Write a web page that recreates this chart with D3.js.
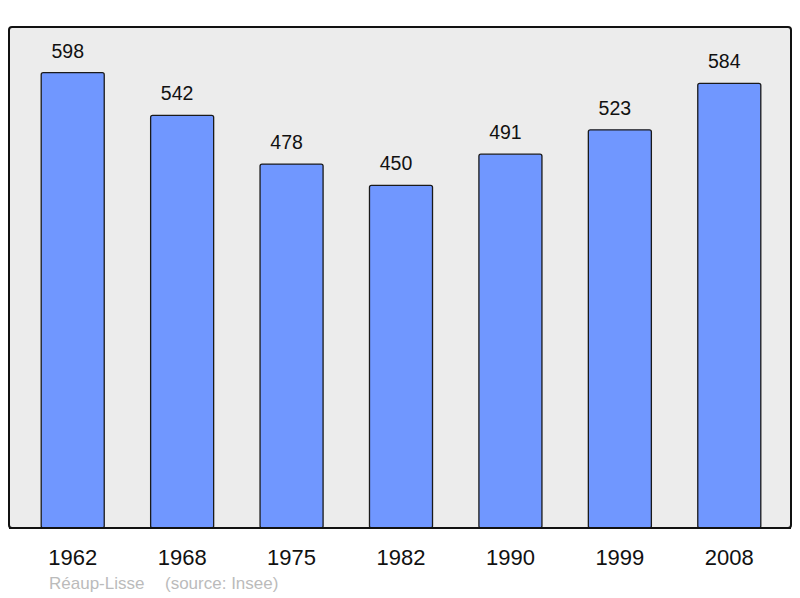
<!DOCTYPE html>
<html><head><meta charset="utf-8">
<script src="https://cdn.jsdelivr.net/npm/d3@7"></script>
<style>body{margin:0;background:#fff}svg{display:block}</style>
</head><body>
<svg id="c" width="800" height="598"></svg>
<script>
const years = ["1962","1968","1975","1982","1990","1999","2008"];
const population = [598,542,478,450,491,523,584];
const placeName = "Réaup-Lisse";
const sourceText = "(source: Insee)";

const svg = d3.select("#c");
const frame = {x0: 9, y0: 27, x1: 791, y1: 528};

svg.append("rect")
  .attr("x", frame.x0).attr("y", frame.y0)
  .attr("width", frame.x1 - frame.x0).attr("height", frame.y1 - frame.y0)
  .attr("rx", 3).attr("ry", 3)
  .attr("fill", "#ececec").attr("stroke", "#111").attr("stroke-width", 2);

const x = d3.scaleBand().domain(years).range([18, 784])
  .paddingInner(0.424).paddingOuter(0.212);
const y = d3.scaleLinear().domain([0, 658]).range([528, 27]);

svg.selectAll("rect.bar").data(population).join("rect")
  .attr("class", "bar")
  .attr("x", (d, i) => x(years[i]))
  .attr("y", d => y(d))
  .attr("width", x.bandwidth())
  .attr("height", d => y(0) - y(d))
  .attr("rx", 2).attr("ry", 2)
  .attr("fill", "#7097ff").attr("stroke", "#1a1a1a").attr("stroke-width", 1.3);

svg.append("line")
  .attr("x1", frame.x0).attr("x2", frame.x1)
  .attr("y1", frame.y1).attr("y2", frame.y1)
  .attr("stroke", "#111").attr("stroke-width", 2);

svg.selectAll("text.val").data(population).join("text")
  .attr("class", "val")
  .attr("x", (d, i) => x(years[i]) + x.bandwidth() / 2 - 5)
  .attr("y", d => y(d) - 15)
  .attr("text-anchor", "middle")
  .attr("font-family", "Liberation Sans, Arial, sans-serif")
  .attr("font-size", 19.5).attr("fill", "#111")
  .text(d => d);

const xAxis = d3.axisBottom(x).tickSize(0).tickPadding(0);
const gx = svg.append("g").attr("transform", `translate(0,${frame.y1})`).call(xAxis);
gx.select(".domain").remove();
gx.selectAll("text")
  .attr("y", 37).attr("dy", 0)
  .attr("font-family", "Liberation Sans, Arial, sans-serif")
  .attr("font-size", 22).attr("fill", "#111");

svg.append("text").attr("x", 49).attr("y", 589)
  .attr("font-family", "Liberation Sans, Arial, sans-serif")
  .attr("font-size", 17).attr("fill", "#bbbbbb").text(placeName);
svg.append("text").attr("x", 165).attr("y", 589)
  .attr("font-family", "Liberation Sans, Arial, sans-serif")
  .attr("font-size", 17).attr("fill", "#bbbbbb").text(sourceText);
</script>
</body></html>
